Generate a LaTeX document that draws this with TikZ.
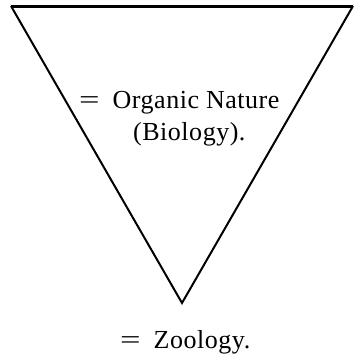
\documentclass[tikz,border=0pt]{standalone}
\usepackage{fontspec}
\setmainfont{Liberation Serif}[LetterSpace=2]
\newcommand{\eqsign}{\scalebox{1.4}[1]{=}\hspace{13pt}}
\begin{document}
\begin{tikzpicture}[x=1pt,y=-1pt,
  label text/.style={font=\fontsize{26}{30}\selectfont, anchor=base west, inner sep=0pt}]
\useasboundingbox (0,0) rectangle (355,354);
\coordinate (tl) at (11,6);
\coordinate (tr) at (353,6);
\coordinate (apex) at (182,303);
\node[label text] (organic) at (79,108) {\eqsign Organic Nature};
\node[label text] (biology) at (133,140) {(Biology).};
\node[label text] (zoology) at (120,348) {\eqsign Zoology.};

\draw[line width=3pt] (tl) -- (tr);
\draw[line width=2pt, line join=miter] (tl) -- (apex) -- (tr);
\end{tikzpicture}
\end{document}
